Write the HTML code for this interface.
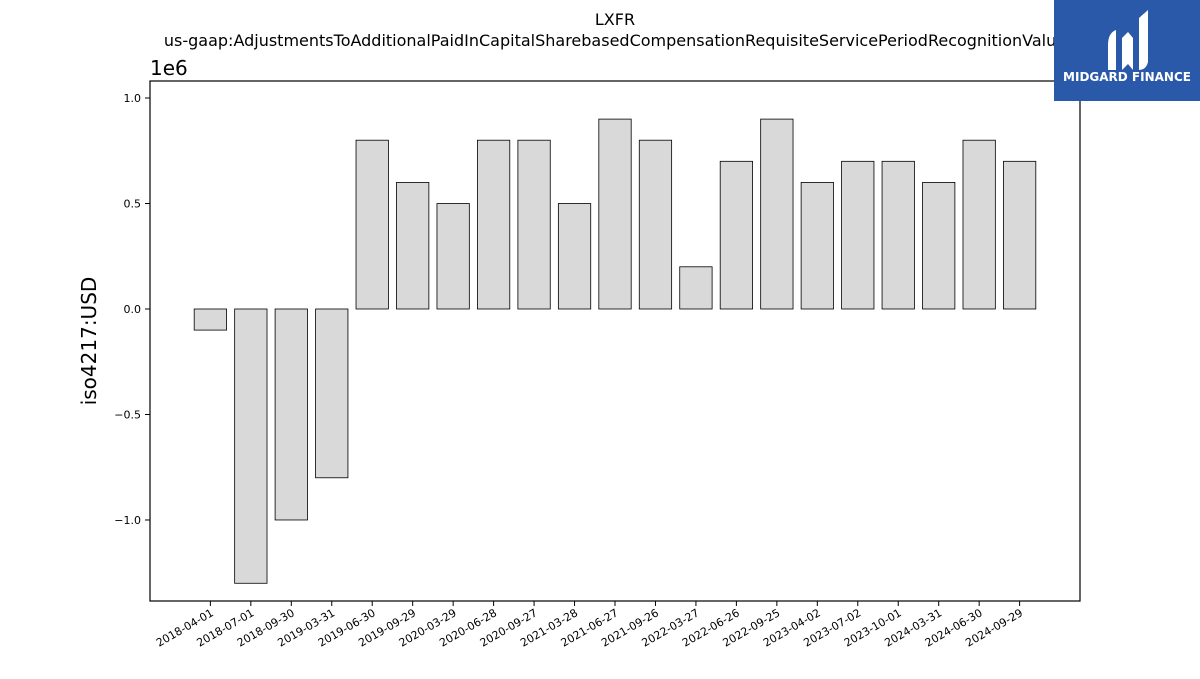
<!DOCTYPE html>
<html><head><meta charset="utf-8"><style>
body{margin:0;background:#fff;font-family:"DejaVu Sans","Liberation Sans",sans-serif;}
</style></head><body>
<svg width="1200" height="675" xmlns="http://www.w3.org/2000/svg" font-family="DejaVu Sans, Liberation Sans, sans-serif">
<text x="615" y="25" text-anchor="middle" font-size="16">LXFR</text>
<text x="615" y="46" text-anchor="middle" font-size="16">us-gaap:AdjustmentsToAdditionalPaidInCapitalSharebasedCompensationRequisiteServicePeriodRecognitionValue</text>
<defs><clipPath id="pc"><rect x="150" y="81" width="930" height="520"/></clipPath></defs>
<g id="bars" clip-path="url(#pc)"></g>
<g id="axes"></g>
<rect x="150" y="81" width="930" height="520" fill="none" stroke="#000" stroke-width="1.2"/>
<text x="150" y="75" font-size="20">1e6</text>
<text transform="translate(96,341) rotate(-90)" text-anchor="middle" font-size="20">iso4217:USD</text>
<g>
<rect x="1054" y="0" width="146" height="101" fill="#2b59aa"/>
<path d="M1108 45 Q1108 33 1116 30 L1116 70 L1108 70 Z" fill="#fff"/>
<path d="M1122 38 L1128 32 L1133 38 L1133 70 L1128 64 L1122 70 Z" fill="#fff"/>
<path d="M1139 18 L1148 10 L1148 62 Q1146 70 1139 70 Z" fill="#fff"/>
<text x="1127" y="81" text-anchor="middle" font-size="12" font-weight="bold" fill="#fff">MIDGARD FINANCE</text>
</g>
</svg>
<script>
const categories=["2018-04-01","2018-07-01","2018-09-30","2019-03-31","2019-06-30","2019-09-29","2020-03-29","2020-06-28","2020-09-27","2021-03-28","2021-06-27","2021-09-26","2022-03-27","2022-06-26","2022-09-25","2023-04-02","2023-07-02","2023-10-01","2024-03-31","2024-06-30","2024-09-29"];
const values=[-0.1e6,-1.3e6,-1.0e6,-0.8e6,0.8e6,0.6e6,0.5e6,0.8e6,0.8e6,0.5e6,0.9e6,0.8e6,0.2e6,0.7e6,0.9e6,0.6e6,0.7e6,0.7e6,0.6e6,0.8e6,0.7e6];
const yTicks=[-1.0e6,-0.5e6,0,0.5e6,1.0e6];
const yTickLabels=["\u22121.0","\u22120.5","0.0","0.5","1.0"];
const NS="http://www.w3.org/2000/svg";
const L=150,R=1080,T=81,B=601,yMin=-1.384e6,yMax=1.0806e6;
const n=categories.length,xlo=-0.4-0.052*n,xhi=n-0.6+0.052*n;
const xs=i=>L+(i-xlo)/(xhi-xlo)*(R-L);
const ys=v=>B-(v-yMin)/(yMax-yMin)*(B-T);
const bw=(xs(0.8)-xs(0));
const bars=document.getElementById('bars'),axes=document.getElementById('axes');
function mk(t,a,p){const e=document.createElementNS(NS,t);for(const k in a)e.setAttribute(k,a[k]);p.appendChild(e);return e;}
values.forEach((v,i)=>{
 const y0=ys(0),y1=ys(v);
 const r=mk('rect',{x:xs(i)-bw/2,y:Math.min(y0,y1),width:bw,height:Math.abs(y1-y0),fill:'#d9d9d9',stroke:'#000','stroke-width':0.8},bars);
 
 
});
categories.forEach((c,i)=>{
 const x=xs(i);
 const tk=mk('line',{x1:x,x2:x,y1:B,y2:B+5,stroke:'#000'},axes);
 
 
 const t=mk('text',{x:x+4,y:B+14,'font-size':11,'text-anchor':'end',transform:`rotate(-30 ${x+4} ${B+14})`},axes);
 t.textContent=c;
 
 
});
yTicks.forEach((v,i)=>{
 const y=ys(v);
 const tk=mk('line',{x1:L-5,x2:L,y1:y,y2:y,stroke:'#000'},axes);
 
 
 const t=mk('text',{x:L-9,y:y+4,'font-size':11,'text-anchor':'end'},axes);
 t.textContent=yTickLabels[i];
 
 
});
</script>
</body></html>
